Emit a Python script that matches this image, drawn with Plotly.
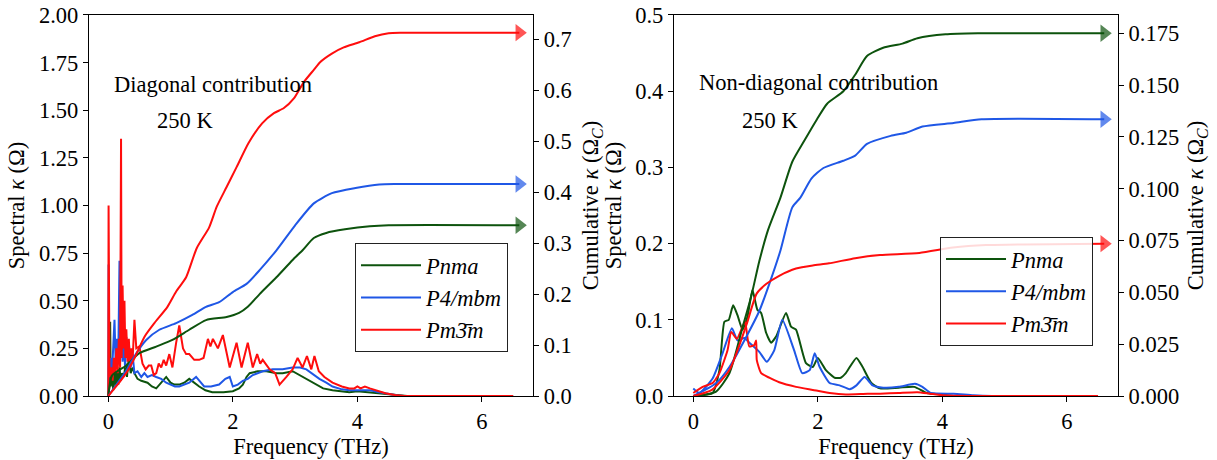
import plotly.graph_objects as go

# ---------------- Diagonal contribution (left panel) ----------------
# spectral kappa, frequency in THz
diag_pnma_f = [0.0, 0.02, 0.03, 0.04, 0.06, 0.08, 0.1, 0.12, 0.14, 0.16, 0.18, 0.2, 0.22, 0.25, 0.28, 0.3,
               0.33, 0.36, 0.39, 0.42, 0.47, 0.53, 0.63, 0.7, 0.77, 0.85, 0.93, 1.0, 1.06, 1.14, 1.22, 1.3,
               1.38, 1.46, 1.56, 1.67, 1.85, 2.0, 2.1, 2.16, 2.22, 2.27, 2.4, 2.54, 2.7, 2.8, 2.96, 3.07,
               3.18, 3.28, 3.45, 3.6, 3.87, 4.0, 4.3, 4.5, 4.65, 4.8, 6.5]
diag_pnma_k = [0.0, 0.05, 0.39, 0.05, 0.12, 0.03, 0.15, 0.05, 0.12, 0.06, 0.15, 0.08, 0.12, 0.1, 0.17, 0.1,
               0.2, 0.12, 0.15, 0.12, 0.09, 0.08, 0.07, 0.05, 0.04, 0.07, 0.10, 0.07, 0.06, 0.06, 0.07, 0.09,
               0.07, 0.05, 0.03, 0.02, 0.02, 0.025, 0.04, 0.06, 0.10, 0.12, 0.13, 0.13, 0.12, 0.12, 0.13, 0.11,
               0.09, 0.07, 0.04, 0.03, 0.02, 0.025, 0.015, 0.008, 0.003, 0.0, 0.0]

diag_p4mbm_f = [0.0, 0.005, 0.015, 0.04, 0.06, 0.08, 0.1, 0.12, 0.14, 0.16, 0.18, 0.19, 0.21, 0.23, 0.25,
                0.27, 0.29, 0.31, 0.33, 0.36, 0.39, 0.42, 0.47, 0.53, 0.58, 0.63, 0.7, 0.77, 0.85, 0.93, 1.0,
                1.07, 1.14, 1.22, 1.3, 1.41, 1.48, 1.54, 1.65, 1.78, 1.88, 1.95, 2.0, 2.08, 2.16, 2.24, 2.32,
                2.48, 2.64, 2.8, 2.96, 3.08, 3.18, 3.3, 3.39, 3.5, 3.6, 3.75, 3.87, 4.0, 4.2, 4.35, 4.5,
                4.65, 4.75, 6.5]
diag_p4mbm_k = [0.0, 0.69, 0.1, 0.2, 0.12, 0.28, 0.40, 0.15, 0.3, 0.18, 0.71, 0.2, 0.33, 0.18, 0.3,
                0.15, 0.31, 0.2, 0.28, 0.15, 0.22, 0.12, 0.13, 0.10, 0.12, 0.10, 0.11, 0.10, 0.09, 0.07, 0.06,
                0.05, 0.05, 0.06, 0.07, 0.10, 0.07, 0.05, 0.05, 0.06, 0.09, 0.10, 0.05, 0.06, 0.08, 0.09, 0.11,
                0.13, 0.14, 0.14, 0.15, 0.15, 0.14, 0.11, 0.09, 0.07, 0.05, 0.035, 0.03, 0.03, 0.03, 0.02, 0.01,
                0.003, 0.0, 0.0]

diag_pm3m_f = [0.0, 0.005, 0.02, 0.05, 0.07, 0.09, 0.11, 0.13, 0.15, 0.17, 0.19, 0.205, 0.215, 0.23, 0.245,
               0.26, 0.275, 0.29, 0.31, 0.33, 0.35, 0.37, 0.39, 0.42, 0.45, 0.5, 0.55, 0.6, 0.65, 0.69, 0.73,
               0.77, 0.81, 0.85, 0.89, 0.93, 0.98, 1.03, 1.09, 1.14, 1.2, 1.25, 1.3, 1.38, 1.46, 1.53, 1.6,
               1.64, 1.68, 1.76, 1.84, 1.95, 2.06, 2.14, 2.24, 2.32, 2.39, 2.44, 2.48, 2.59, 2.68, 2.75, 2.86,
               2.96, 3.04, 3.12, 3.19, 3.26, 3.31, 3.38, 3.47, 3.6, 3.75, 3.87, 3.95, 4.0, 4.05, 4.12, 4.2,
               4.3, 4.45, 4.6, 4.75, 6.5]
diag_pm3m_k = [0.0, 1.0, 0.10, 0.15, 0.08, 0.2, 0.12, 0.25, 0.12, 0.3, 0.15, 1.35, 0.2, 0.58, 0.25,
               0.5, 0.2, 0.35, 0.18, 0.3, 0.15, 0.25, 0.18, 0.40, 0.25, 0.26, 0.17, 0.14, 0.16, 0.16, 0.11,
               0.12, 0.17, 0.15, 0.19, 0.16, 0.22, 0.15, 0.28, 0.37, 0.25, 0.22, 0.22, 0.19, 0.19, 0.2, 0.30,
               0.26, 0.30, 0.25, 0.32, 0.15, 0.28, 0.15, 0.28, 0.15, 0.22, 0.17, 0.19, 0.14, 0.12, 0.06, 0.10,
               0.14, 0.2, 0.15, 0.21, 0.14, 0.21, 0.13, 0.10, 0.07, 0.05, 0.04, 0.04, 0.05, 0.04, 0.05, 0.04,
               0.03, 0.015, 0.005, 0.0, 0.0]

# cumulative kappa (right axis)
diag_cum_pnma_f = [0.0, 0.06, 0.29, 0.5, 0.77, 1.03, 1.3, 1.57, 1.9, 2.1, 2.24, 2.43, 2.7, 2.96, 3.12,
                   3.3, 3.5, 3.8, 4.2, 4.5, 6.6]
diag_cum_pnma_k = [0.0, 0.04, 0.06, 0.084, 0.097, 0.11, 0.13, 0.149, 0.155, 0.163, 0.175, 0.20, 0.233, 0.267,
                   0.286, 0.31, 0.32, 0.327, 0.333, 0.335, 0.335]
diag_cum_p4mbm_f = [0.0, 0.29, 0.45, 0.61, 0.82, 1.09, 1.35, 1.57, 1.78, 2.0, 2.22, 2.43, 2.7, 3.0, 3.3,
                    3.59, 3.97, 4.35, 4.6, 6.6]
diag_cum_p4mbm_k = [0.0, 0.05, 0.084, 0.11, 0.13, 0.143, 0.159, 0.175, 0.184, 0.204, 0.22, 0.247, 0.286, 0.335,
                    0.378, 0.398, 0.408, 0.415, 0.416, 0.416]
diag_cum_pm3m_f = [0.0, 0.2, 0.3, 0.42, 0.58, 0.74, 0.95, 1.09, 1.25, 1.42, 1.62, 1.74, 1.9, 2.06, 2.25,
                   2.47, 2.66, 2.82, 2.98, 3.14, 3.3, 3.4, 3.59, 3.78, 4.03, 4.28, 4.5, 4.7, 6.6]
diag_cum_pm3m_k = [0.0, 0.03, 0.047, 0.074, 0.116, 0.143, 0.175, 0.205, 0.233, 0.29, 0.331, 0.371, 0.41, 0.449,
                   0.496, 0.535, 0.555, 0.565, 0.584, 0.616, 0.64, 0.655, 0.672, 0.684, 0.694, 0.706, 0.712,
                   0.713, 0.713]

# ---------------- Non-diagonal contribution (right panel) ----------------
nd_pnma_f = [0.0, 0.31, 0.42, 0.5, 0.57, 0.64, 0.71, 0.79, 0.87, 0.95, 1.03, 1.09, 1.17, 1.25, 1.33, 1.49,
             1.57, 1.65, 1.81, 1.92, 2.0, 2.13, 2.27, 2.37, 2.45, 2.62, 2.72, 2.86, 3.0, 3.3, 3.55, 3.75,
             4.0, 4.2, 6.5]
nd_pnma_k = [0.0, 0.004, 0.034, 0.0975, 0.10, 0.119, 0.106, 0.087, 0.104, 0.139, 0.113, 0.109, 0.083, 0.07,
             0.078, 0.109, 0.091, 0.087, 0.043, 0.038, 0.05, 0.034, 0.024, 0.024, 0.030, 0.05, 0.038, 0.017,
             0.01, 0.011, 0.012, 0.004, 0.002, 0.0, 0.0]

nd_p4mbm_f = [0.0, 0.1, 0.31, 0.47, 0.62, 0.71, 0.82, 0.9, 1.06, 1.18, 1.3, 1.43, 1.62, 1.75, 1.87, 1.95,
              2.03, 2.19, 2.35, 2.51, 2.62, 2.75, 2.88, 3.05, 3.3, 3.56, 3.68, 3.81, 4.18, 4.5, 4.8, 6.5]
nd_p4mbm_k = [0.01, 0.004, 0.023, 0.056, 0.089, 0.073, 0.076, 0.07, 0.058, 0.045, 0.06, 0.1, 0.06, 0.03,
              0.034, 0.056, 0.038, 0.017, 0.014, 0.009, 0.014, 0.025, 0.014, 0.011, 0.012, 0.016, 0.012,
              0.004, 0.003, 0.001, 0.0, 0.0]

nd_pm3m_f = [0.0, 0.15, 0.31, 0.42, 0.55, 0.61, 0.7, 0.83, 0.9, 0.98, 1.01, 1.02, 1.09, 1.22, 1.38, 1.65,
             1.92, 2.19, 2.45, 2.8, 3.0, 3.3, 3.6, 3.8, 4.0, 4.5, 6.5]
nd_pm3m_k = [0.004, 0.012, 0.017, 0.03, 0.06, 0.084, 0.075, 0.0975, 0.065, 0.067, 0.073, 0.047, 0.03, 0.024,
             0.018, 0.012, 0.008, 0.004, 0.002, 0.003, 0.003, 0.004, 0.005, 0.003, 0.001, 0.0, 0.0]

nd_cum_pnma_f = [0.0, 0.36, 0.58, 0.79, 0.93, 1.06, 1.2, 1.4, 1.59, 1.78, 1.97, 2.15, 2.41, 2.6, 2.79,
                 3.05, 3.36, 3.6, 4.05, 4.57, 6.6]
nd_cum_pnma_k = [0.0, 0.002, 0.011, 0.033, 0.048, 0.065, 0.080, 0.0957, 0.113, 0.123, 0.1327, 0.141, 0.147,
                 0.155, 0.164, 0.168, 0.170, 0.1726, 0.1745, 0.175, 0.175]
nd_cum_p4mbm_f = [0.0, 0.36, 0.58, 0.85, 1.06, 1.22, 1.4, 1.59, 1.72, 1.9, 2.09, 2.41, 2.6, 2.79, 3.17,
                  3.42, 3.68, 4.18, 4.63, 6.6]
nd_cum_p4mbm_k = [0.0, 0.006, 0.014, 0.0285, 0.041, 0.054, 0.0702, 0.091, 0.0957, 0.105, 0.110, 0.1135,
                  0.116, 0.1216, 0.1255, 0.127, 0.130, 0.1317, 0.1335, 0.1335]
nd_cum_pm3m_f = [0.0, 0.3, 0.58, 0.85, 1.02, 1.17, 1.38, 1.65, 1.92, 2.18, 2.6, 3.0, 3.63, 4.17, 4.7, 6.6]
nd_cum_pm3m_k = [0.0, 0.003, 0.0125, 0.034, 0.0495, 0.054, 0.058, 0.0615, 0.063, 0.064, 0.0665, 0.068, 0.069,
                 0.0716, 0.0728, 0.0735]

phase_names = ["<i>Pnma</i>", "<i>P4/mbm</i>", "<i>Pm3\u0304m</i>"]
phase_colors = ["#0d530d", "#1f57e6", "#ff0d0d"]

FONT = "Times New Roman, Liberation Serif, serif"
FS = 22.5

fig = go.Figure()


def add_panel(spec, cum, xa, ya, ya2, legend, shape):
    for (f, k), name, color in zip(spec, phase_names, phase_colors):
        fig.add_trace(go.Scatter(x=f, y=k, mode="lines", name=name, legend=legend,
                                 line=dict(color=color, width=2, shape=shape, smoothing=0.5),
                                 xaxis=xa, yaxis=ya))
    for (f, k), color in zip(cum, phase_colors):
        sizes = [0] * (len(f) - 1) + [15]
        fig.add_trace(go.Scatter(x=f, y=k, mode="lines+markers", showlegend=False,
                                 line=dict(color=color, width=2, shape="spline", smoothing=0.6),
                                 marker=dict(symbol="triangle-right", size=sizes, color=color,
                                             line=dict(width=0)),
                                 xaxis=xa, yaxis=ya2))


add_panel([(diag_pnma_f, diag_pnma_k), (diag_p4mbm_f, diag_p4mbm_k), (diag_pm3m_f, diag_pm3m_k)],
          [(diag_cum_pnma_f, diag_cum_pnma_k), (diag_cum_p4mbm_f, diag_cum_p4mbm_k),
           (diag_cum_pm3m_f, diag_cum_pm3m_k)],
          "x", "y", "y2", "legend", "linear")
add_panel([(nd_pnma_f, nd_pnma_k), (nd_p4mbm_f, nd_p4mbm_k), (nd_pm3m_f, nd_pm3m_k)],
          [(nd_cum_pnma_f, nd_cum_pnma_k), (nd_cum_p4mbm_f, nd_cum_p4mbm_k),
           (nd_cum_pm3m_f, nd_cum_pm3m_k)],
          "x2", "y3", "y4", "legend2", "spline")


def font(size=FS):
    return dict(family=FONT, size=size, color="black")


def spec_title(standoff):
    return dict(text="Spectral <i>κ</i> (Ω)", font=font(), standoff=standoff)


def cum_title(standoff):
    return dict(text="Cumulative <i>κ</i> (Ω<sub><i>C</i></sub>)", font=font(), standoff=standoff)


y_bottom, y_top = 0.1391, 0.9674
common_ax = dict(showgrid=False, zeroline=False, showline=True, linecolor="black", linewidth=1.2,
                 ticks="outside", ticklen=5, tickwidth=1.2, tickcolor="black", automargin=False,
                 tickfont=font())

x_title = dict(text="Frequency (THz)", font=font(), standoff=3)

x_range = [-0.31, 6.82]
fig.update_layout(
    template="none",
    width=1217, height=460, margin=dict(l=0, r=0, t=0, b=0, autoexpand=False),
    paper_bgcolor="white", plot_bgcolor="white",
    font=font(),
    xaxis=dict(domain=[0.0731, 0.438], range=x_range, tickvals=[0, 2, 4, 6], anchor="y", mirror=True,
               title=x_title, **common_ax),
    yaxis=dict(domain=[y_bottom, y_top], range=[0, 2.0], tickvals=[0, 0.25, 0.5, 0.75, 1.0, 1.25, 1.5, 1.75, 2.0],
               tickformat=".2f", anchor="x", title=spec_title(8), **common_ax),
    yaxis2=dict(domain=[y_bottom, y_top], range=[0, 0.7476], tickvals=[0, 0.1, 0.2, 0.3, 0.4, 0.5, 0.6, 0.7],
                tickformat=".1f", anchor="x", overlaying="y", side="right", title=cum_title(11), **common_ax),
    xaxis2=dict(domain=[0.5538, 0.9186], range=x_range, tickvals=[0, 2, 4, 6], anchor="y3", mirror=True,
                title=x_title, **common_ax),
    yaxis3=dict(domain=[y_bottom, y_top], range=[0, 0.5], tickvals=[0, 0.1, 0.2, 0.3, 0.4, 0.5],
                tickformat=".1f", anchor="x2", title=spec_title(7), **common_ax),
    yaxis4=dict(domain=[y_bottom, y_top], range=[0, 0.1838],
                tickvals=[0, 0.025, 0.05, 0.075, 0.1, 0.125, 0.15, 0.175],
                tickformat=".3f", anchor="x2", overlaying="y3", side="right", title=cum_title(9), **common_ax),
    legend=dict(x=0.2917, y=0.4717, xanchor="left", yanchor="top", bgcolor="rgba(255,255,255,0.85)",
                bordercolor="#222", borderwidth=1, font=font(), itemwidth=60, tracegroupgap=0),
    legend2=dict(x=0.7724, y=0.4848, xanchor="left", yanchor="top", bgcolor="rgba(255,255,255,0.85)",
                 bordercolor="#222", borderwidth=1, font=font(), itemwidth=60, tracegroupgap=0),
    annotations=[
        dict(text="Diagonal contribution", x=213 / 1217, y=1 - 84 / 460, xref="paper", yref="paper",
             xanchor="center", yanchor="middle", showarrow=False, font=font()),
        dict(text="250 K", x=185 / 1217, y=1 - 121 / 460, xref="paper", yref="paper",
             xanchor="center", yanchor="middle", showarrow=False, font=font()),
        dict(text="Non-diagonal contribution", x=818 / 1217, y=1 - 83 / 460, xref="paper", yref="paper",
             xanchor="center", yanchor="middle", showarrow=False, font=font()),
        dict(text="250 K", x=770 / 1217, y=1 - 121 / 460, xref="paper", yref="paper",
             xanchor="center", yanchor="middle", showarrow=False, font=font()),
    ],
)

fig.write_html("out.html")
